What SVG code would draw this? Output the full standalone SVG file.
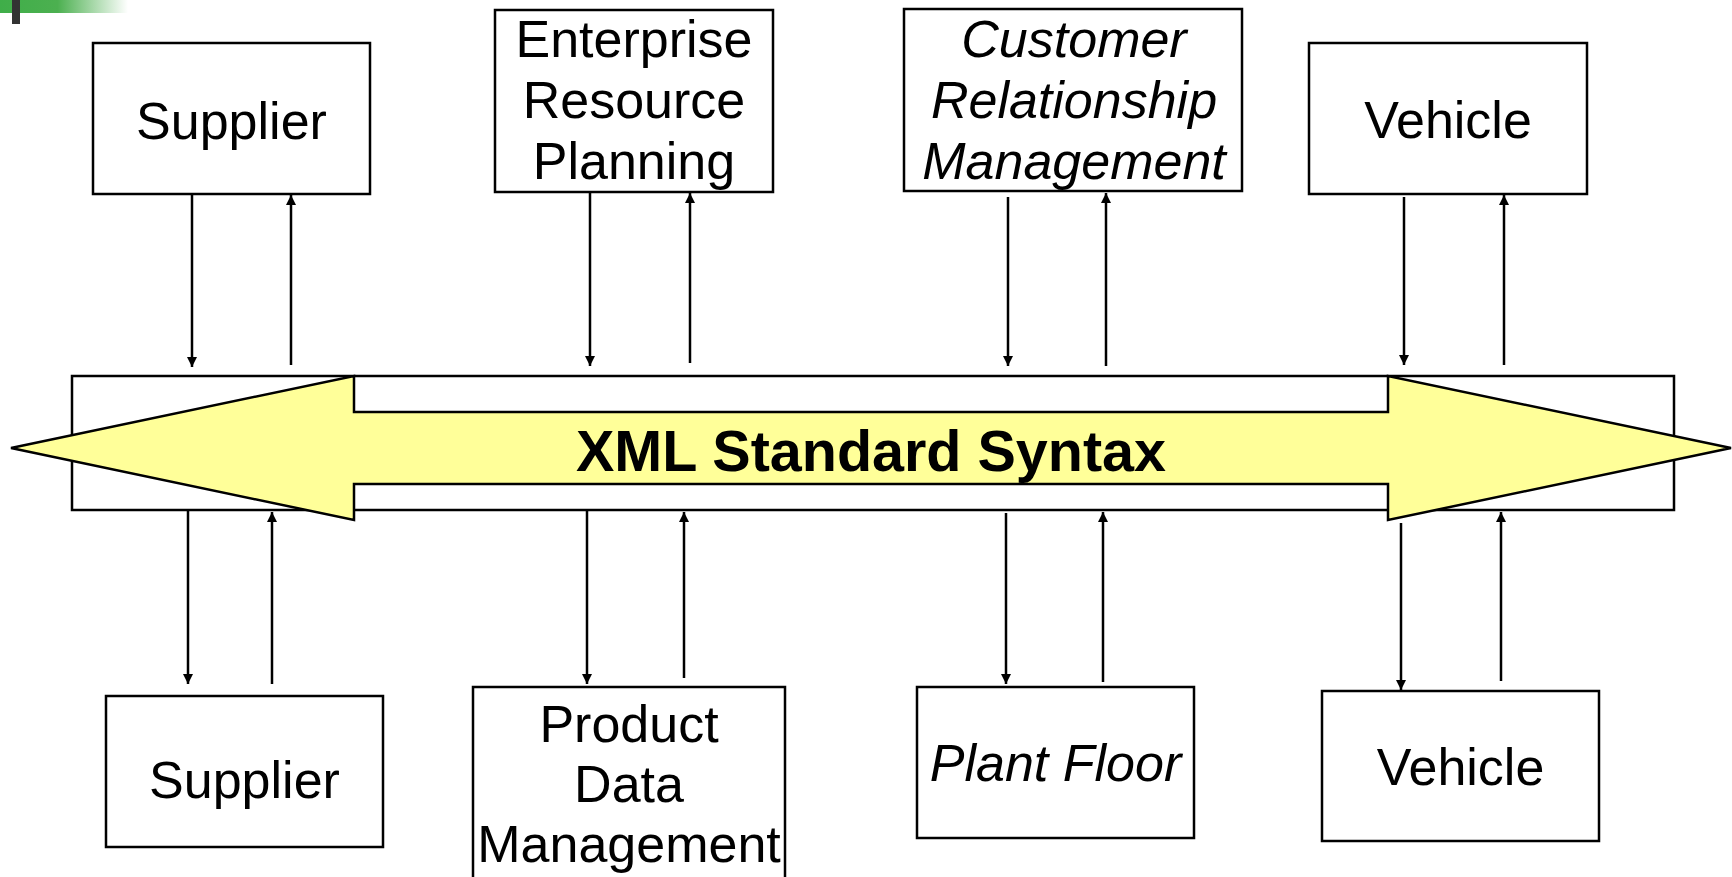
<svg xmlns="http://www.w3.org/2000/svg" width="1732" height="877" viewBox="0 0 1732 877">
<style>
.box{fill:#fff;stroke:#000;stroke-width:2.5}
.lbl{font-family:"Liberation Sans",Arial,sans-serif;font-size:52px;fill:#000;text-anchor:middle}
.it{font-style:italic}
.con{stroke:#000;stroke-width:2.5;fill:none;marker-end:url(#ah)}
</style>
<defs>
<linearGradient id="gb" x1="0" y1="0" x2="1" y2="0">
<stop offset="0" stop-color="#3fae49"/>
<stop offset="0.45" stop-color="#4cb050"/>
<stop offset="1" stop-color="#ffffff"/>
</linearGradient>
<marker id="ah" viewBox="0 0 10 10" refX="10" refY="5" markerWidth="12" markerHeight="10" markerUnits="userSpaceOnUse" orient="auto">
<path d="M0,0 L10,5 L0,10 z" fill="#000"/>
</marker>
</defs>
<rect x="0" y="0" width="1732" height="877" fill="#fff"/>
<rect x="0" y="0" width="128" height="13" fill="url(#gb)"/>
<rect x="12" y="0" width="8" height="24" fill="#333"/>

<g id="bus">
<rect class="box" x="72" y="376" width="1602" height="134"/>
<polygon points="11,448 354,376 354,412 1388,412 1388,376 1731,448 1388,520 1388,484 354,484 354,520" fill="#ffff99" stroke="#000" stroke-width="2.5" stroke-linejoin="miter"/>
<text x="871" y="471" style="font-family:'Liberation Sans',Arial,sans-serif;font-size:57.5px;font-weight:bold;text-anchor:middle;fill:#000">XML Standard Syntax</text>
</g>

<g id="supplier-top">
<rect class="box" x="93" y="43" width="277" height="151"/>
<text class="lbl" x="231.5" y="139">Supplier</text>
</g>
<g id="erp">
<rect class="box" x="495" y="10" width="278" height="182"/>
<text class="lbl" x="634" y="57">Enterprise</text>
<text class="lbl" x="634" y="118">Resource</text>
<text class="lbl" x="634" y="179">Planning</text>
</g>
<g id="crm">
<rect class="box" x="904" y="9" width="338" height="182"/>
<text class="lbl it" x="1074" y="57">Customer</text>
<text class="lbl it" x="1074" y="118">Relationship</text>
<text class="lbl it" x="1074" y="179">Management</text>
</g>
<g id="vehicle-top">
<rect class="box" x="1309" y="43" width="278" height="151"/>
<text class="lbl" x="1448" y="138">Vehicle</text>
</g>

<g id="supplier-bottom">
<rect class="box" x="106" y="696" width="277" height="151"/>
<text class="lbl" x="244.5" y="798">Supplier</text>
</g>
<g id="pdm">
<rect class="box" x="473" y="687" width="312" height="200"/>
<text class="lbl" x="629" y="742">Product</text>
<text class="lbl" x="629" y="802">Data</text>
<text class="lbl" x="629" y="862">Management</text>
</g>
<g id="plant-floor">
<rect class="box" x="917" y="687" width="277" height="151"/>
<text class="lbl it" x="1055.5" y="781">Plant Floor</text>
</g>
<g id="vehicle-bottom">
<rect class="box" x="1322" y="691" width="277" height="150"/>
<text class="lbl" x="1460.5" y="785">Vehicle</text>
</g>

<g id="connectors">
<line class="con" x1="192" y1="195" x2="192" y2="367"/>
<line class="con" x1="291" y1="365" x2="291" y2="195"/>
<line class="con" x1="590" y1="193" x2="590" y2="366"/>
<line class="con" x1="690" y1="363" x2="690" y2="193"/>
<line class="con" x1="1008" y1="197" x2="1008" y2="366"/>
<line class="con" x1="1106" y1="366" x2="1106" y2="193"/>
<line class="con" x1="1404" y1="197" x2="1404" y2="365"/>
<line class="con" x1="1504" y1="365" x2="1504" y2="195"/>
<line class="con" x1="188" y1="511" x2="188" y2="684"/>
<line class="con" x1="272" y1="684" x2="272" y2="512"/>
<line class="con" x1="587" y1="511" x2="587" y2="684"/>
<line class="con" x1="684" y1="678" x2="684" y2="512"/>
<line class="con" x1="1006" y1="513" x2="1006" y2="684"/>
<line class="con" x1="1103" y1="682" x2="1103" y2="512"/>
<line class="con" x1="1401" y1="523" x2="1401" y2="690"/>
<line class="con" x1="1501" y1="681" x2="1501" y2="512"/>
</g>
</svg>
